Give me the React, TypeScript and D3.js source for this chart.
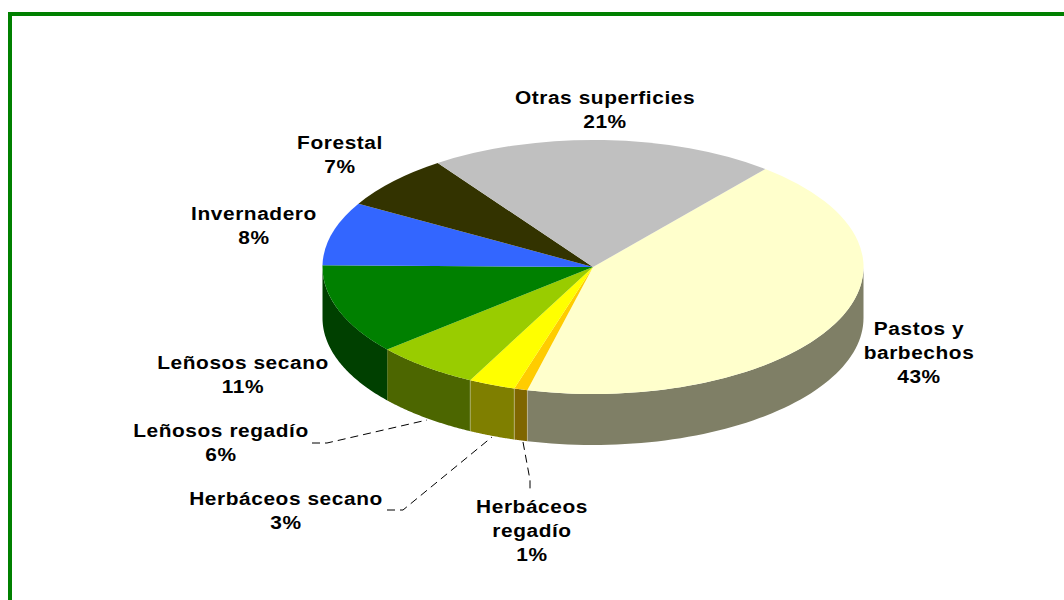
import React from "react";
import * as d3 from "d3";

const categories = ["Pastos y barbechos", "Herbáceos regadío", "Herbáceos secano", "Leñosos regadío", "Leñosos secano", "Invernadero", "Forestal", "Otras superficies"];
const values = [42.9, 0.8, 2.8, 6.26, 11.45, 8.1, 6.95, 20.74];
const topColors = ["#FFFFCC", "#FFCC00", "#FFFF00", "#99CC00", "#008000", "#3366FF", "#333300", "#C0C0C0"];
const labelLines = [
  ["Pastos y", "barbechos", "43%"],
  ["Herbáceos", "regadío", "1%"],
  ["Herbáceos secano", "3%"],
  ["Leñosos regadío", "6%"],
  ["Leñosos secano", "11%"],
  ["Invernadero", "8%"],
  ["Forestal", "7%"],
  ["Otras superficies", "21%"],
];
const labelAnchors: [number, number][] = [
  [919, 335], [532, 513], [286, 505], [221, 437], [243, 369], [254, 220], [340, 149], [605, 104],
];
const leaderLines: [number, number][][] = [
  [[312, 443], [327, 443], [427, 420]],
  [[387, 510], [403, 510], [492, 437]],
  [[523, 442], [530, 480], [530, 490]],
];

const cx = 593, cy = 267, rx = 270.5, ry = 127, depth = 51;
const startDeg = 39.6;

const px = (a: number) => cx + rx * Math.sin(a);
const py = (a: number) => cy - ry * Math.cos(a);

export default function App() {
  const toRad = (d: number) => (d * Math.PI) / 180;
  const slices = d3.pie<number>().sort(null)
    .startAngle(toRad(startDeg))
    .endAngle(toRad(startDeg + 360))(values);

  const arc = d3.arc<d3.PieArcDatum<number>>().innerRadius(0).outerRadius(1);
  const sideArea = d3.area<number>().x((a) => px(a)).y0((a) => py(a)).y1((a) => py(a) + depth);

  const sideFor = (s: d3.PieArcDatum<number>) => {
    const a0 = Math.max(s.startAngle, Math.PI / 2);
    const a1 = Math.min(s.endAngle, (3 * Math.PI) / 2);
    if (a1 <= a0) return null;
    return sideArea(d3.range(0, 61).map((i) => a0 + ((a1 - a0) * i) / 60));
  };

  const leader = d3.line();

  return (
    <svg width={1064} height={600} style={{ position: "absolute", left: 0, top: 0, background: "#fff" }}>
      <path d="M10 600V14H1064" fill="none" stroke="#008000" strokeWidth={4} />
      {slices.map((s, i) => {
        const d = sideFor(s);
        if (!d) return null;
        const c = d3.rgb(topColors[i]);
        return <path key={i} d={d} fill={`rgb(${c.r >> 1},${c.g >> 1},${c.b >> 1})`} />;
      })}
      {slices.slice(0, 3).map((s, i) => (
        <line key={i} x1={px(s.endAngle)} x2={px(s.endAngle)} y1={py(s.endAngle)} y2={py(s.endAngle) + depth}
          stroke="#fff" strokeOpacity={0.3} strokeWidth={1} />
      ))}
      <g transform={`translate(${cx},${cy}) scale(${rx},${ry})`}>
        {slices.map((s, i) => (
          <path key={i} d={arc(s) ?? ""} fill={topColors[i]} />
        ))}
      </g>
      {leaderLines.map((l, i) => (
        <path key={i} d={leader(l) ?? ""} fill="none" stroke="#000" strokeWidth={1} strokeDasharray="8 5" />
      ))}
      {categories.map((c, i) => (
        <g key={c} transform={`translate(${labelAnchors[i][0]},${labelAnchors[i][1]}) scale(1.13,1)`}>
          <text textAnchor="middle" fontFamily="'Liberation Sans', Arial, sans-serif" fontWeight="bold"
            fontSize={18.5} fill="#000" style={{ letterSpacing: "0.5px" }}>
            {labelLines[i].map((t, j) => (
              <tspan key={j} x={0} y={j * 24}>{t}</tspan>
            ))}
          </text>
        </g>
      ))}
    </svg>
  );
}
